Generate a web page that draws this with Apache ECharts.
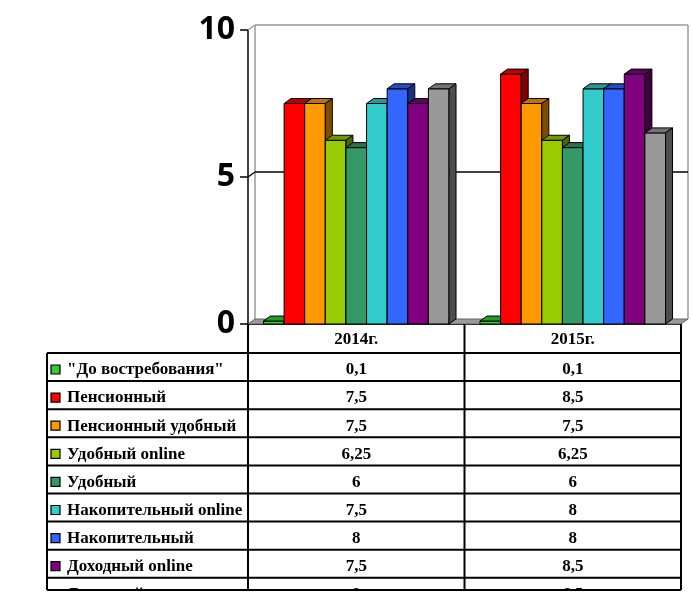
<!DOCTYPE html>
<html>
<head>
<meta charset="utf-8">
<script src="https://cdn.jsdelivr.net/npm/echarts@6/dist/echarts.min.js"></script>
<style>
  html, body { margin: 0; padding: 0; background: #fff; }
  #chart { width: 693px; height: 609px; }
</style>
</head>
<body>
<div id="chart"></div>
<script>
// data
const years = ['2014г.', '2015г.'];
const names = [
  '"До востребования"',
  'Пенсионный',
  'Пенсионный удобный',
  'Удобный online',
  'Удобный',
  'Накопительный online',
  'Накопительный',
  'Доходный online',
  'Доходный',
];
const values = [
  [0.1, 0.1],
  [7.5, 8.5],
  [7.5, 7.5],
  [6.25, 6.25],
  [6, 6],
  [7.5, 8],
  [8, 8],
  [7.5, 8.5],
  [8, 6.5],
];
const yTicks = [0, 5, 10];
const colors = ['#33cc33', '#ff0000', '#ff9900', '#99cc00', '#339966', '#33cccc', '#3366ff', '#800080', '#999999'];

const DX = 7;
const DY = 5;
const GROUP = 0.857;
const SERIF = 'Liberation Serif';

const shade = (hex, k) => {
  const n = parseInt(hex.slice(1), 16);
  const r = Math.round(((n >> 16) & 255) * k);
  const g = Math.round(((n >> 8) & 255) * k);
  const b = Math.round((n & 255) * k);
  return 'rgb(' + r + ',' + g + ',' + b + ')';
};

const fmt = (v) => String(v).replace('.', ',');

const makeBar = (idx) => (params, api) => {
  const cat = api.value(0);
  const val = api.value(1);
  const band = api.size([1, 0])[0];
  const groupW = band * GROUP;
  const bw = groupW / names.length;
  const base = api.coord([cat, 0]);
  const top = api.coord([cat, val]);
  const x0 = base[0] - groupW / 2 + idx * bw;
  const x1 = x0 + bw;
  const yb = base[1];
  const yt = top[1];
  const c = colors[idx];
  const stroke = { stroke: '#000', lineWidth: 1 };
  return {
    type: 'group',
    children: [
      {
        type: 'rect',
        shape: { x: x0, y: yt, width: bw, height: yb - yt },
        style: { fill: c, ...stroke },
      },
      {
        type: 'polygon',
        shape: { points: [[x0, yt], [x0 + DX, yt - DY], [x1 + DX, yt - DY], [x1, yt]] },
        style: { fill: shade(c, 0.75), ...stroke },
      },
      {
        type: 'polygon',
        shape: { points: [[x1, yt], [x1 + DX, yt - DY], [x1 + DX, yb - DY], [x1, yb]] },
        style: { fill: shade(c, 0.5), ...stroke },
      },
    ],
  };
};

// back wall, floor and gridline
const renderWall = (params, api) => {
  const cs = params.coordSys;
  const x = cs.x, y = cs.y, w = cs.width, h = cs.height;
  const children = [];
  const grey = { stroke: '#9a9a9a', lineWidth: 1.5 };
  children.push({ type: 'line', shape: { x1: x + DX, y1: y - DY, x2: x + DX, y2: y + h - DY }, style: grey });
  children.push({ type: 'line', shape: { x1: x + DX, y1: y - DY, x2: x + w + DX, y2: y - DY }, style: grey });
  children.push({ type: 'line', shape: { x1: x + w + DX, y1: y - DY, x2: x + w + DX, y2: y + h - DY }, style: grey });
  children.push({ type: 'line', shape: { x1: x, y1: y, x2: x + DX, y2: y - DY }, style: grey });
  yTicks.filter((t) => t > 0 && t < 10).forEach((t) => {
    const py = api.coord([0, t])[1];
    children.push({ type: 'line', shape: { x1: x, y1: py, x2: x + DX, y2: py - DY }, style: { stroke: '#000', lineWidth: 1.5 } });
    children.push({ type: 'line', shape: { x1: x + DX, y1: py - DY, x2: x + w + DX, y2: py - DY }, style: { stroke: '#000', lineWidth: 1.5 } });
  });
  children.push({
    type: 'polygon',
    shape: { points: [[x, y + h], [x + DX, y + h - DY], [x + w + DX, y + h - DY], [x + w, y + h]] },
    style: { fill: '#999999', stroke: '#666', lineWidth: 1 },
  });
  return { type: 'group', children };
};

const chart = echarts.init(document.getElementById('chart'), null, { renderer: 'canvas' });

chart.setOption({
  animation: false,
  backgroundColor: '#fff',
  grid: { left: 248, top: 30, right: 12, bottom: 285 },
  xAxis: {
    type: 'category',
    data: years,
    axisLine: { lineStyle: { color: '#000', width: 2 } },
    axisTick: { show: false },
    axisLabel: { show: false },
    splitLine: { show: false },
  },
  yAxis: {
    type: 'value',
    min: 0,
    max: 10,
    interval: 5,
    axisLine: { show: true, lineStyle: { color: '#000', width: 1.5 } },
    axisTick: { show: true, length: 8, lineStyle: { color: '#000', width: 1.5 } },
    axisLabel: {
      margin: 13,
      color: '#000',
      fontSize: 32,
      fontWeight: 'bold',
      fontFamily: 'Open Sans',
    },
    splitLine: { show: false },
  },
  series: [
    {
      type: 'custom',
      name: 'wall',
      z: 1,
      renderItem: renderWall,
      data: [[0, 0]],
      silent: true,
    },
    ...names.map((name, i) => ({
      type: 'custom',
      name,
      z: 10 + i,
      renderItem: makeBar(i),
      data: values[i].map((v, c) => [c, v]),
    })),
  ],
});

// data table under the plot
const buildTable = () => {
  const band = chart.convertToPixel({ xAxisIndex: 0 }, 1) - chart.convertToPixel({ xAxisIndex: 0 }, 0);
  const cx = years.map((_, c) => chart.convertToPixel({ xAxisIndex: 0 }, c));
  const colEdges = [cx[0] - band / 2, cx[0] + band / 2, cx[1] + band / 2];
  const tableTop = chart.convertToPixel({ yAxisIndex: 0 }, 0);
  const rowH = 28.1;
  const headerBottom = tableTop + 29;
  const tableLeft = 47;
  const clipY = 590;
  const line = (x1, y1, x2, y2) => ({
    type: 'line',
    z: 50,
    shape: { x1, y1, x2, y2 },
    style: { stroke: '#000', lineWidth: 2 },
  });
  const text = (x, y, str, align) => ({
    type: 'text',
    z: 50,
    x,
    y,
    style: {
      text: str,
      fill: '#000',
      font: 'bold 17px "' + SERIF + '"',
      align,
      verticalAlign: 'middle',
    },
  });
  const els = [];
  years.forEach((yr, c) => els.push(text(cx[c], tableTop + 16, yr, 'center')));
  names.forEach((name, i) => {
    const top = headerBottom + i * rowH;
    const mid = top + 17;
    els.push({
      type: 'rect',
      z: 50,
      shape: { x: 51, y: mid - 5, width: 9, height: 9 },
      style: { fill: colors[i], stroke: '#000', lineWidth: 1.2 },
    });
    els.push(text(67, mid, name, 'left'));
    values[i].forEach((v, c) => els.push(text(cx[c], mid, fmt(v), 'center')));
  });
  // cut the table at the bottom edge of the picture
  els.push({ type: 'rect', z: 60, shape: { x: 0, y: clipY, width: 693, height: 609 - clipY }, style: { fill: '#fff' } });
  for (let i = 0; i <= names.length; i++) {
    const y = headerBottom + i * rowH;
    if (y < clipY) els.push(line(tableLeft, y, colEdges[2], y));
  }
  els.push({ ...line(tableLeft, clipY, colEdges[2], clipY), z: 61 });
  els.push(line(tableLeft, headerBottom, tableLeft, clipY));
  colEdges.forEach((x) => els.push(line(x, tableTop, x, clipY)));
  chart.setOption({ graphic: els });
};
buildTable();
</script>
</body>
</html>
